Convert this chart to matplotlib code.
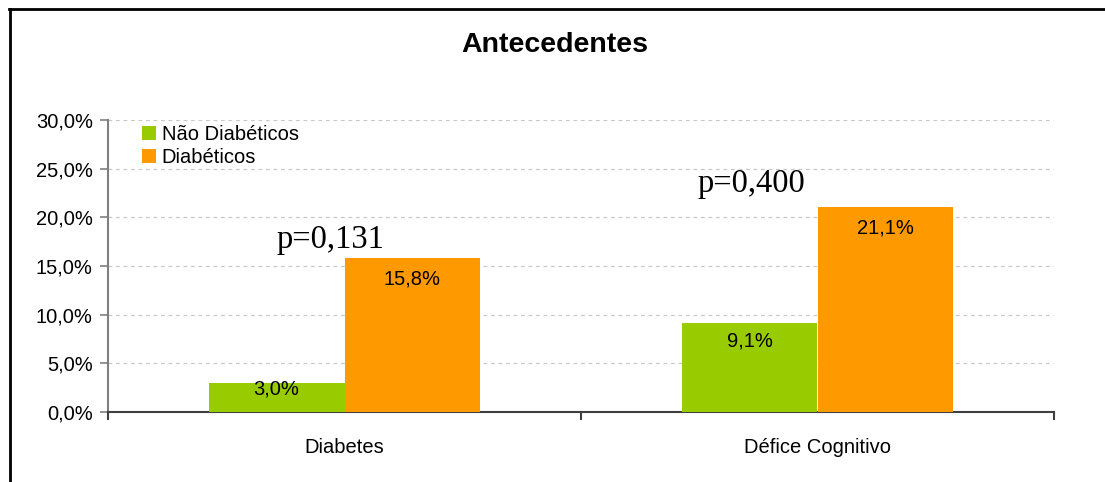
import matplotlib.pyplot as plt
import numpy as np
from matplotlib.lines import Line2D

# data
categories = ['Diabetes', 'Défice Cognitivo']
nao_diabeticos = [3.0, 9.1]
diabeticos = [15.8, 21.1]
series_names = ['Não Diabéticos', 'Diabéticos']
p_values = ['p=0,131', 'p=0,400']
p_x = [-0.03, 0.86]
p_heights = [17.7, 23.4]
yticks = [0, 5, 10, 15, 20, 25, 30]

green = '#99CC00'
orange = '#FF9900'

plt.rcParams['font.family'] = ['Liberation Sans', 'DejaVu Sans']

fig = plt.figure(figsize=(11.05, 4.82), dpi=100)
ax = fig.add_axes([108 / 1105, 70 / 482, (1054 - 108) / 1105, 292 / 482])

x = np.arange(len(categories))
w = 0.2875
b1 = ax.bar(x - w / 2, nao_diabeticos, w, color=green, label=series_names[0], zorder=3)
b2 = ax.bar(x + w / 2, diabeticos, w, color=orange, label=series_names[1], zorder=3)

# value labels inside the bars, near the top (kept inside short bars)
for bars, vals in [(b1, nao_diabeticos), (b2, diabeticos)]:
    for rect, v in zip(bars, vals):
        cx = rect.get_x() + rect.get_width() / 2
        ax.text(cx, max(v - 2.15, v * 0.8), f'{v:.1f}%'.replace('.', ','),
                ha='center', va='center', fontsize=14.5, zorder=4)

# p-values
for px, txt, h in zip(p_x, p_values, p_heights):
    ax.text(px, h, txt, ha='center', va='center', fontsize=23.5,
            family='Liberation Serif', zorder=4)

ax.set_xlim(-0.5, 1.5)
ax.set_ylim(0, 30)
ax.set_yticks(yticks)
ax.set_yticklabels([f'{t:.1f}%'.replace('.', ',') for t in yticks], fontsize=14.5)
ax.set_xticks(x)
ax.set_xticklabels(categories, fontsize=14.5)
ax.tick_params(axis='x', length=0, pad=19)
ax.tick_params(axis='y', length=6, color='#808080', width=1.2, pad=5)

# category separators on the x axis
for xs in [-0.5, 0.5, 1.5]:
    ax.add_line(Line2D([xs, xs], [0, -0.7], color='#404040', lw=1.5,
                       clip_on=False, zorder=5))

ax.yaxis.grid(True, linestyle=(0, (3, 3)), color='#C8C8C8', lw=0.9, zorder=0)
ax.set_axisbelow(True)
for s in ['top', 'right']:
    ax.spines[s].set_visible(False)
ax.spines['left'].set_color('#808080')
ax.spines['left'].set_linewidth(1.5)
ax.spines['bottom'].set_color('#404040')
ax.spines['bottom'].set_linewidth(1.5)

ax.legend(loc='upper left', bbox_to_anchor=(0.027, 1.01), frameon=False,
          fontsize=14.5, handlelength=0.7, handleheight=0.7, handletextpad=0.3,
          labelspacing=0.2, borderaxespad=0)

fig.text(555 / 1105, 1 - 45 / 482, 'Antecedentes', ha='center', va='center',
         fontsize=20.5, fontweight='bold')

# outer chart frame (top and left edges visible)
fig.add_artist(Line2D([9 / 1105, 1], [1 - 9 / 482, 1 - 9 / 482],
                      color='black', lw=2, transform=fig.transFigure))
fig.add_artist(Line2D([9.5 / 1105, 9.5 / 1105], [0, 1 - 9 / 482],
                      color='black', lw=2, transform=fig.transFigure))

fig.savefig('out.png', dpi=100)
